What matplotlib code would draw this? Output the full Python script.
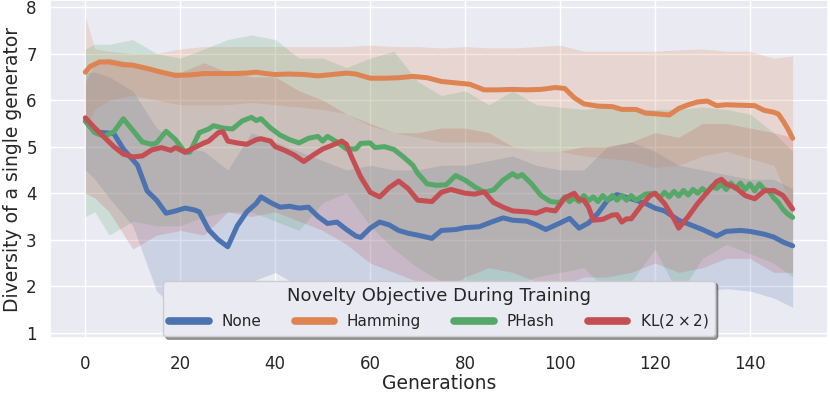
import numpy as np
import matplotlib
matplotlib.use("Agg")
import matplotlib.pyplot as plt
import seaborn as sns

# ---------------------------------------------------------------------------
# mean curves
# ---------------------------------------------------------------------------
none_gen = [0, 2, 4, 6, 8, 11, 13, 15, 17, 19, 21, 23, 24, 26, 28, 30, 32, 34, 36, 37,
            39, 41, 43, 45, 47, 49, 51, 53, 55, 57, 58, 60, 62, 64, 66, 68, 70, 73, 75,
            78, 80, 83, 85, 88, 90, 93, 95, 97, 100, 102, 104, 106, 108, 110, 112, 115,
            118, 120, 122, 125, 128, 130, 133, 135, 138, 140, 143, 145, 147, 149]
none_val = [5.55, 5.31, 5.30, 5.28, 4.95, 4.6, 4.05, 3.85, 3.57, 3.62, 3.68, 3.64, 3.6,
            3.21, 3.0, 2.85, 3.3, 3.6, 3.78, 3.92, 3.8, 3.7, 3.72, 3.68, 3.7, 3.5, 3.35,
            3.38, 3.22, 3.08, 3.05, 3.25, 3.38, 3.32, 3.2, 3.14, 3.1, 3.03, 3.2, 3.22,
            3.26, 3.28, 3.36, 3.47, 3.42, 3.4, 3.32, 3.22, 3.36, 3.46, 3.25, 3.36, 3.57,
            3.85, 3.97, 3.88, 3.78, 3.68, 3.62, 3.42, 3.3, 3.22, 3.08, 3.18, 3.2, 3.18,
            3.12, 3.06, 2.95, 2.87]

ham_gen = [0, 1, 3, 5, 8, 10, 13, 16, 19, 22, 25, 28, 31, 34, 36, 38, 40, 43, 46, 49,
           52, 55, 57, 60, 63, 66, 69, 72, 75, 78, 81, 84, 87, 90, 93, 96, 99, 101, 103,
           105, 108, 111, 113, 116, 118, 121, 123, 125, 127, 129, 131, 133, 135, 138,
           141, 143, 145, 146, 147, 148, 149]
ham_val = [6.6, 6.72, 6.82, 6.82, 6.76, 6.75, 6.68, 6.6, 6.53, 6.54, 6.57, 6.57, 6.57,
           6.58, 6.6, 6.57, 6.55, 6.56, 6.55, 6.52, 6.55, 6.58, 6.56, 6.47, 6.47, 6.48,
           6.51, 6.48, 6.4, 6.37, 6.34, 6.22, 6.22, 6.23, 6.22, 6.23, 6.27, 6.25, 6.05,
           5.92, 5.87, 5.86, 5.8, 5.8, 5.72, 5.7, 5.68, 5.82, 5.9, 5.96, 5.98, 5.88, 5.9,
           5.89, 5.88, 5.78, 5.74, 5.7, 5.55, 5.38, 5.18]

phash_gen = [0, 2, 4, 6, 8, 10, 12, 14, 15, 17, 19, 21, 22, 24, 26, 27, 29, 31, 33, 35,
             36, 37, 39, 41, 43, 45, 47, 49, 50, 51, 53, 55, 57, 58, 60, 61, 63, 65, 67,
             69, 70, 72, 74, 76, 78, 80, 82, 84, 86, 88, 90, 91, 92, 94, 96, 98, 100,
             101, 102, 103, 104, 105, 106, 107, 108, 109, 110, 111, 112, 113, 114, 115,
             116, 118, 120, 121, 122, 123, 124, 125, 126, 127, 128, 129, 130, 131, 132,
             133, 134, 135, 136, 137, 138, 139, 140, 141, 142, 143, 144, 145, 146, 147,
             148, 149]
phash_val = [5.55, 5.3, 5.22, 5.32, 5.6, 5.35, 5.1, 5.05, 5.08, 5.33, 5.15, 4.88, 4.88,
             5.3, 5.38, 5.45, 5.4, 5.38, 5.55, 5.63, 5.56, 5.6, 5.4, 5.25, 5.15, 5.08,
             5.18, 5.22, 5.12, 5.22, 5.1, 4.95, 4.95, 5.07, 5.08, 4.98, 5.0, 4.94, 4.78,
             4.6, 4.43, 4.2, 4.17, 4.18, 4.38, 4.28, 4.14, 4.02, 4.07, 4.28, 4.42, 4.35,
             4.4, 4.2, 3.95, 3.82, 3.8, 3.92, 3.82, 3.9, 3.82, 3.95, 3.84, 3.92, 3.82,
             3.95, 3.85, 3.95, 3.85, 3.95, 3.85, 3.95, 3.85, 3.98, 4.0, 3.9, 4.02, 3.92,
             4.04, 3.94, 4.06, 3.96, 4.08, 4.0, 4.1, 4.02, 4.15, 4.1, 4.2, 4.08, 4.22,
             4.1, 4.22, 4.08, 4.2, 4.05, 4.2, 4.08, 4.05, 3.9, 3.8, 3.65, 3.55, 3.48]

kl_gen = [0, 2, 4, 6, 8, 10, 12, 14, 16, 18, 19, 21, 23, 25, 26, 28, 29, 30, 32, 34, 36,
          37, 39, 40, 42, 44, 46, 48, 50, 52, 54, 55, 56, 58, 60, 62, 64, 66, 68, 70, 73,
          75, 77, 80, 82, 84, 86, 88, 90, 93, 95, 97, 99, 101, 103, 104, 105, 106, 107,
          109, 111, 112, 113, 114, 115, 117, 119, 120, 122, 124, 125, 127, 129, 131,
          133, 134, 135, 137, 139, 141, 143, 145, 147, 149]
kl_val = [5.62, 5.4, 5.2, 5.0, 4.84, 4.78, 4.8, 4.93, 4.98, 4.92, 4.98, 4.88, 4.98, 5.08,
          5.12, 5.3, 5.32, 5.12, 5.08, 5.05, 5.15, 5.17, 5.12, 5.0, 4.92, 4.82, 4.68,
          4.82, 4.95, 5.03, 5.12, 5.05, 4.8, 4.35, 4.02, 3.92, 4.12, 4.26, 4.1, 3.85,
          3.82, 4.02, 4.08, 4.0, 3.98, 4.03, 3.8, 3.7, 3.62, 3.6, 3.57, 3.65, 3.62, 3.9,
          4.0, 3.86, 3.85, 3.7, 3.42, 3.44, 3.53, 3.54, 3.38, 3.45, 3.45, 3.72, 3.95,
          4.0, 3.78, 3.45, 3.25, 3.5, 3.78, 4.02, 4.25, 4.3, 4.2, 4.12, 3.95, 3.88, 4.05,
          4.06, 3.95, 3.66]

# ---------------------------------------------------------------------------
# shaded bands
# ---------------------------------------------------------------------------
band_gen = [0, 2, 5, 10, 15, 20, 25, 30, 35, 40, 45, 50, 55, 60, 65, 70, 75, 80, 85,
            90, 95, 100, 105, 110, 115, 120, 125, 130, 135, 140, 145, 149]

none_lo = [4.5, 4.3, 3.9, 3.3, 1.9, 1.4, 1.9, 1.6, 2.1, 2.3, 2.0, 2.0, 1.8, 1.7, 1.6,
           1.6, 1.7, 1.6, 1.7, 1.8, 1.7, 1.7, 1.6, 1.7, 1.8, 1.85, 1.9, 1.9, 1.95, 1.9,
           1.75, 1.55]
none_hi = [6.6, 6.6, 6.5, 6.2, 5.4, 5.0, 4.9, 4.5, 5.3, 5.1, 4.9, 4.7, 4.5, 4.6, 4.5,
           4.5, 4.6, 4.6, 4.7, 4.8, 4.6, 4.5, 4.5, 5.0, 5.1, 4.9, 4.6, 4.5, 4.4, 4.3,
           4.3, 4.1]

ham_lo = [5.4, 5.8, 6.0, 6.1, 6.0, 5.9, 5.9, 5.9, 5.95, 5.9, 5.85, 5.8, 5.7, 5.45, 5.3,
          5.2, 5.1, 5.1, 5.1, 5.0, 4.9, 4.9, 4.8, 4.75, 4.7, 4.55, 4.6, 4.8, 4.9, 4.75,
          4.6, 3.7]
ham_hi = [7.8, 7.1, 7.05, 7.0, 7.0, 7.1, 7.15, 7.15, 7.15, 7.15, 7.15, 7.15, 7.15, 7.18,
          7.15, 7.15, 7.12, 7.15, 7.12, 7.12, 7.15, 7.18, 7.05, 7.05, 7.05, 7.05, 7.08,
          7.1, 7.05, 7.05, 6.9, 6.95]

phash_lo = [3.5, 3.6, 3.1, 3.4, 3.3, 3.3, 3.5, 3.6, 3.6, 3.4, 3.2, 3.8, 4.0, 3.3, 2.8,
            2.4, 2.1, 1.9, 2.0, 2.0, 2.2, 2.3, 2.4, 1.9, 2.1, 2.8, 1.8, 2.6, 2.9, 2.7,
            2.5, 2.2]
phash_hi = [7.1, 7.2, 7.2, 7.3, 7.0, 6.9, 7.1, 7.3, 7.4, 7.3, 6.9, 6.9, 6.7, 6.9, 7.05,
            6.4, 6.1, 6.2, 5.9, 6.2, 5.9, 5.85, 5.8, 5.85, 5.8, 5.8, 5.8, 5.85, 5.8, 5.7,
            5.3, 4.9]

kl_lo = [4.0, 3.9, 3.6, 2.8, 3.1, 3.2, 3.1, 3.6, 3.5, 3.6, 3.4, 3.2, 2.9, 2.5, 2.3, 2.1,
         1.9, 2.2, 2.4, 2.3, 2.1, 2.0, 2.2, 2.2, 2.3, 2.5, 2.3, 2.4, 2.6, 2.6, 2.3, 2.3]
kl_hi = [6.4, 6.8, 6.9, 6.8, 6.6, 6.6, 6.8, 6.6, 6.5, 6.5, 6.2, 6.0, 5.7, 5.5, 5.3, 5.3,
         5.4, 5.4, 5.3, 5.0, 4.9, 4.9, 5.0, 5.0, 5.1, 5.3, 5.2, 5.5, 5.5, 5.4, 5.3, 5.2]

labels = ["None", "Hamming", "PHash", "KL$(2 \\times 2)$"]

sns.set_theme(style="darkgrid")
colors = sns.color_palette("deep")

fig = plt.figure(figsize=(8.3, 3.94), dpi=100)
ax = fig.add_axes([50 / 830, 1 - 338 / 394, 778 / 830, 338 / 394])

curves = [(none_gen, none_val, none_lo, none_hi),
          (ham_gen, ham_val, ham_lo, ham_hi),
          (phash_gen, phash_val, phash_lo, phash_hi),
          (kl_gen, kl_val, kl_lo, kl_hi)]

for i, (g, v, lo, hi) in enumerate(curves):
    ax.fill_between(band_gen, lo, hi, color=colors[i], alpha=0.2, linewidth=0)
for i, (g, v, lo, hi) in enumerate(curves):
    ax.plot(g, v, color=colors[i], lw=3.6, label=labels[i], solid_capstyle="round")

ax.set_xlim(-7.45, 156.45)
ax.set_ylim(0.89, 8.15)
ax.set_xticks([0, 20, 40, 60, 80, 100, 120, 140])
ax.set_yticks([1, 2, 3, 4, 5, 6, 7, 8])
ax.tick_params(labelsize=12)
ax.tick_params(axis="x", pad=6)
ax.set_xlabel("Generations", fontsize=13.5, labelpad=1)
ax.set_ylabel("Diversity of a single generator", fontsize=13.5, labelpad=3)

leg = ax.legend(loc="lower center", ncol=4, title="Novelty Objective During Training",
                fontsize=11, title_fontsize=13, shadow=True, handlelength=2.6,
                borderaxespad=0.1, columnspacing=2.2)
for ln in leg.get_lines():
    ln.set_linewidth(5.5)

fig.savefig("out.png", dpi=100)
